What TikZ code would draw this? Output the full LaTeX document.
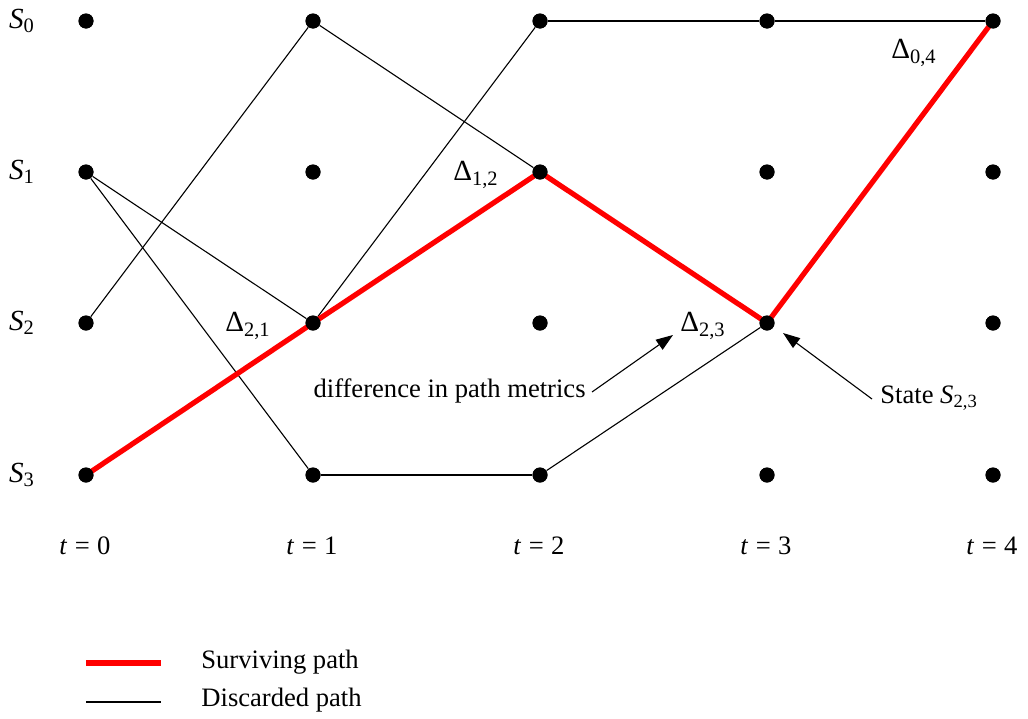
\documentclass[tikz,border=0pt]{standalone}
\usepackage{fontspec}
\setmainfont{Liberation Serif}
\usetikzlibrary{arrows.meta}
\newcommand\mysub[1]{\textsubscript{#1}}
\newcommand\myeq{\hspace{0.28em}=\hspace{0.28em}}
\begin{document}
\begin{tikzpicture}[x=0.5pt,y=-0.5pt,
  every node/.style={font=\fontsize{13.3}{16}\selectfont, inner sep=0pt},
  dlabel/.style={font=\fontsize{14.6}{17}\selectfont},
  dot/.style={circle, fill=black, minimum size=7.5pt, inner sep=0pt},
  disc/.style={draw=black, line width=0.55pt},
  surv/.style={draw=red, line width=2.6pt},
  callout/.style={draw=black, line width=0.55pt, -{Triangle[length=8.5pt,width=6pt]}}]
\useasboundingbox (0,0) rectangle (1028,718);
% grid of states
\foreach \c/\x in {0/86,1/313,2/540,3/767,4/993}{
  \foreach \r/\y in {0/21,1/172,2/323,3/475}{
    \node[dot] (n\c\r) at (\x,\y) {};
  }
}
% discarded paths
\draw[disc] (n02) -- (n10);
\draw[disc] (n01) -- (n12);
\draw[disc] (n01) -- (n13);
\draw[disc] (n10) -- (n21);
\draw[disc] (n12) -- (n20);
\draw[disc] (n13) -- (n23);
\draw[disc] (n20) -- (n30);
\draw[disc] (n30) -- (n40);
\draw[disc] (n23) -- (n32);
% surviving path
\draw[surv, line join=round] (n03.center) -- (n12.center) -- (n21.center) -- (n32.center) -- (n40.center);
% redraw dots on top
\foreach \c/\x in {0/86,1/313,2/540,3/767,4/993}{
  \foreach \r/\y in {0/21,1/172,2/323,3/475}{
    \node[dot] at (\x,\y) {};
  }
}
% state labels
\node[dlabel] (s0) at (22,21) {\textit{S}\mysub{0}};
\node[dlabel] (s1) at (22,172) {\textit{S}\mysub{1}};
\node[dlabel] (s2) at (22,323) {\textit{S}\mysub{2}};
\node[dlabel] (s3) at (22,475) {\textit{S}\mysub{3}};
% time labels
\node (t0) at (85,546) {\textit{t}\myeq 0};
\node (t1) at (312,546) {\textit{t}\myeq 1};
\node (t2) at (539,546) {\textit{t}\myeq 2};
\node (t3) at (766,546) {\textit{t}\myeq 3};
\node (t4) at (992,546) {\textit{t}\myeq 4};
% delta labels
\node[dlabel] (d21) at (248,326) {Δ\mysub{2,1}};
\node[dlabel] (d12) at (476,175) {Δ\mysub{1,2}};
\node[dlabel] (d23) at (703,326) {Δ\mysub{2,3}};
\node[dlabel] (d04) at (914,53) {Δ\mysub{0,4}};
% annotations
\node[anchor=east] (diff) at (586,391) {difference in path metrics};
\coordinate (diffend) at (592,392);
\coordinate (difftip) at (673,335);
\draw[callout] (diffend) -- (difftip);
\node[anchor=west] (state) at (880,398) {State \textit{S}\mysub{2,3}};
\coordinate (stend) at (872,399);
\coordinate (sttip) at (783,333);
\draw[callout] (stend) -- (sttip);
% legend
\coordinate (la1) at (86,663);
\coordinate (lb1) at (161,663);
\coordinate (la2) at (86,702);
\coordinate (lb2) at (161,702);
\draw[surv] (la1) -- (lb1);
\draw[disc] (la2) -- (lb2);
\node[anchor=west] (lsurv) at (201,662) {Surviving path};
\node[anchor=west] (ldisc) at (201,700) {Discarded path};
\end{tikzpicture}
\end{document}
